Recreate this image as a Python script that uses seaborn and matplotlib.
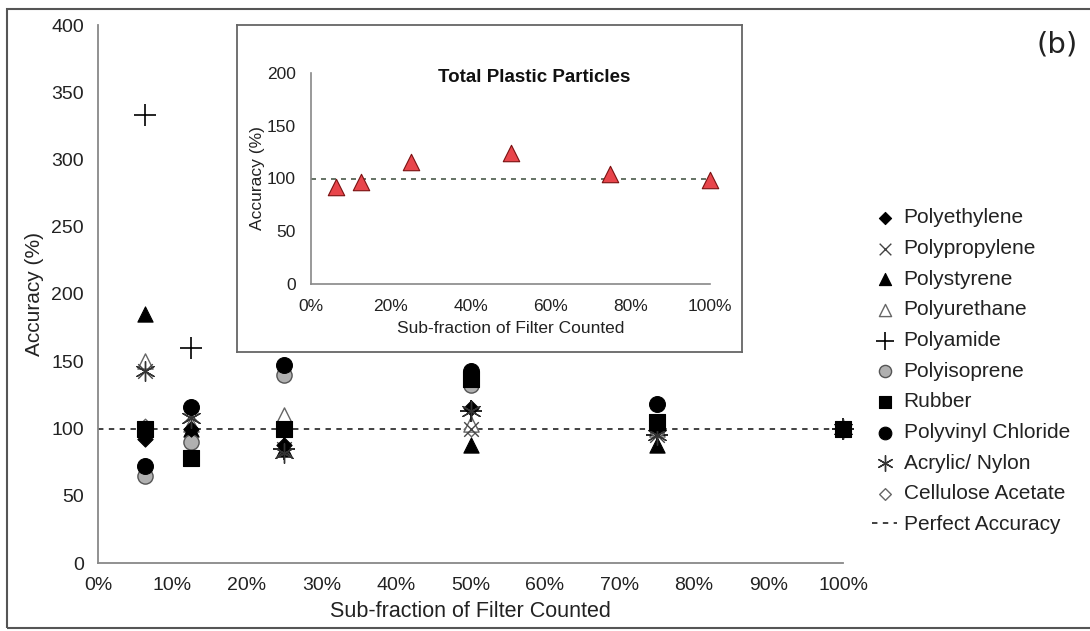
import numpy as np
import pandas as pd
import matplotlib
matplotlib.use("Agg")
import matplotlib.pyplot as plt
from matplotlib.patches import Rectangle
from matplotlib.ticker import PercentFormatter
import seaborn as sns

# ---------------- data ----------------
fractions = [6.25, 12.5, 25, 50, 75, 100]  # % of filter counted

polyethylene = [92, 100, 88, 115, 100, 100]
polypropylene = [143, 110, 85, 100, 95, 100]
polystyrene = [185, 100, 85, 88, 88, 100]
polyurethane = [150, 103, 110, 103, 100, 100]
polyamide = [333, 160, 85, 113, 95, 100]
polyisoprene = [65, 90, 140, 132, 100, 100]
rubber = [100, 78, 100, 137, 105, 100]
pvc = [72, 116, 147, 143, 118, 100]
acrylic_nylon = [143, 108, 82, 113, 95, 100]
cellulose_acetate = [102, 100, 100, 100, 100, 100]

total_fractions = [6.25, 12.5, 25, 50, 75, 100]
total_accuracy = [92, 97, 116, 124, 104, 99]

series_names = ["Polyethylene", "Polypropylene", "Polystyrene", "Polyurethane",
                "Polyamide", "Polyisoprene", "Rubber", "Polyvinyl Chloride",
                "Acrylic/ Nylon", "Cellulose Acetate"]
series_values = [polyethylene, polypropylene, polystyrene, polyurethane,
                 polyamide, polyisoprene, rubber, pvc, acrylic_nylon,
                 cellulose_acetate]

# ---------------- styles ----------------
styles = {
    "Polyethylene": dict(marker="D", s=60, color="black", edgecolor="black", linewidth=0.8, zorder=3.2),
    "Polypropylene": dict(marker="x", s=110, color="#444444", linewidth=1.0, zorder=3.1),
    "Polystyrene": dict(marker="^", s=120, color="black", edgecolor="black", linewidth=0.8, zorder=3.0),
    "Polyurethane": dict(marker="^", s=120, color="white", edgecolor="#666666", linewidth=1.0, zorder=2.8),
    "Polyamide": dict(marker="+", s=250, color="black", linewidth=1.2, zorder=3.0),
    "Polyisoprene": dict(marker="o", s=120, color="#b0b0b0", edgecolor="#555555", linewidth=1.0, zorder=3.0),
    "Rubber": dict(marker="s", s=120, color="black", edgecolor="black", linewidth=0.8, zorder=3.6),
    "Polyvinyl Chloride": dict(marker="o", s=130, color="black", edgecolor="black", linewidth=0.8, zorder=3.5),
    "Acrylic/ Nylon": dict(marker=(6, 2, 0), s=200, color="#333333", linewidth=1.0, zorder=3.3),
    "Cellulose Acetate": dict(marker="D", s=55, color="white", edgecolor="#666666", linewidth=1.0, zorder=2.6),
}

sns.set_style("white")
plt.rcParams["font.family"] = ["Liberation Sans", "DejaVu Sans"]

fig = plt.figure(figsize=(10.9, 6.31), dpi=100)

# outer frame
fig.add_artist(Rectangle((7 / 1090, 3 / 631), 1.2, 619 / 631, transform=fig.transFigure,
                         fill=False, edgecolor="#555555", linewidth=1.5, zorder=0))

ax = fig.add_axes([98 / 1090, 68 / 631, 745 / 1090, 538 / 631])
ax.set_zorder(1)

for name, vals in zip(series_names, series_values):
    df = pd.DataFrame({"x": fractions, "y": vals})
    st = styles[name]
    sns.scatterplot(data=df, x="x", y="y", ax=ax, label=name, clip_on=False, **st)

perfect = ax.axhline(100, color="#333333", linestyle=(0, (3, 3)), linewidth=1.3,
                     zorder=2, label="Perfect Accuracy")

ax.set_xlim(0, 100)
ax.set_ylim(0, 400)
ax.set_xticks(np.arange(0, 101, 10))
ax.set_yticks(np.arange(0, 401, 50))
ax.xaxis.set_major_formatter(PercentFormatter(decimals=0))
ax.tick_params(direction="in", length=5, width=1, color="#888888",
               labelsize=14, labelcolor="#222222", pad=10)
for side in ["top", "right"]:
    ax.spines[side].set_visible(False)
for side in ["left", "bottom"]:
    ax.spines[side].set_color("#888888")
    ax.spines[side].set_linewidth(1.3)
ax.set_xlabel("Sub-fraction of Filter Counted", fontsize=15.5, color="#222222", labelpad=5)
ax.set_ylabel("Accuracy (%)", fontsize=15, color="#222222", labelpad=5)

handles, labels = ax.get_legend_handles_labels()
ax.get_legend().remove()
fig.legend(handles, labels, loc="upper left", bbox_to_anchor=(864 / 1090, 1 - 200 / 631),
           frameon=False, fontsize=15, labelspacing=0.56, handlelength=1.2,
           handletextpad=0.3, borderaxespad=0, labelcolor="#222222", markerscale=0.8)

fig.text(1078 / 1090, 1 - 45 / 631, "(b)", fontsize=21, ha="right", va="center",
         family=["DejaVu Sans"], color="#222222")

# ---------------- inset ----------------
frame_ax = fig.add_axes([237 / 1090, (631 - 352) / 631, 505 / 1090, 327 / 631])
frame_ax.set_zorder(4)
frame_ax.set_xticks([])
frame_ax.set_yticks([])
frame_ax.set_facecolor("white")
for sp in frame_ax.spines.values():
    sp.set_color("#666666")
    sp.set_linewidth(1.3)

iax = fig.add_axes([311 / 1090, (631 - 284) / 631, 399 / 1090, 211 / 631])
iax.set_zorder(5)
iax.patch.set_alpha(0)
tdf = pd.DataFrame({"x": total_fractions, "y": total_accuracy})
sns.scatterplot(data=tdf, x="x", y="y", ax=iax, marker="^", s=140, color="#e8454b",
                edgecolor="#7a1010", linewidth=0.8, zorder=3, clip_on=False)
iax.axhline(100, color="#4a5a4a", linestyle=(0, (3, 3)), linewidth=1.2, zorder=2)
iax.set_xlim(0, 100)
iax.set_ylim(0, 200)
iax.set_xticks(np.arange(0, 101, 20))
iax.set_yticks(np.arange(0, 201, 50))
iax.xaxis.set_major_formatter(PercentFormatter(decimals=0))
iax.tick_params(direction="in", length=4, width=1, color="#888888",
                labelsize=12.5, labelcolor="#222222", pad=11)
for side in ["top", "right"]:
    iax.spines[side].set_visible(False)
for side in ["left", "bottom"]:
    iax.spines[side].set_color("#888888")
    iax.spines[side].set_linewidth(1.2)
iax.set_xlabel("Sub-fraction of Filter Counted", fontsize=12.5, color="#222222", labelpad=5)
iax.set_ylabel("Accuracy (%)", fontsize=12.5, color="#222222", labelpad=1)
iax.text(0.56, 0.98, "Total Plastic Particles", transform=iax.transAxes,
         ha="center", va="center", fontsize=13.5, fontweight="bold", color="#111111")

fig.savefig("out.png", dpi=100)
